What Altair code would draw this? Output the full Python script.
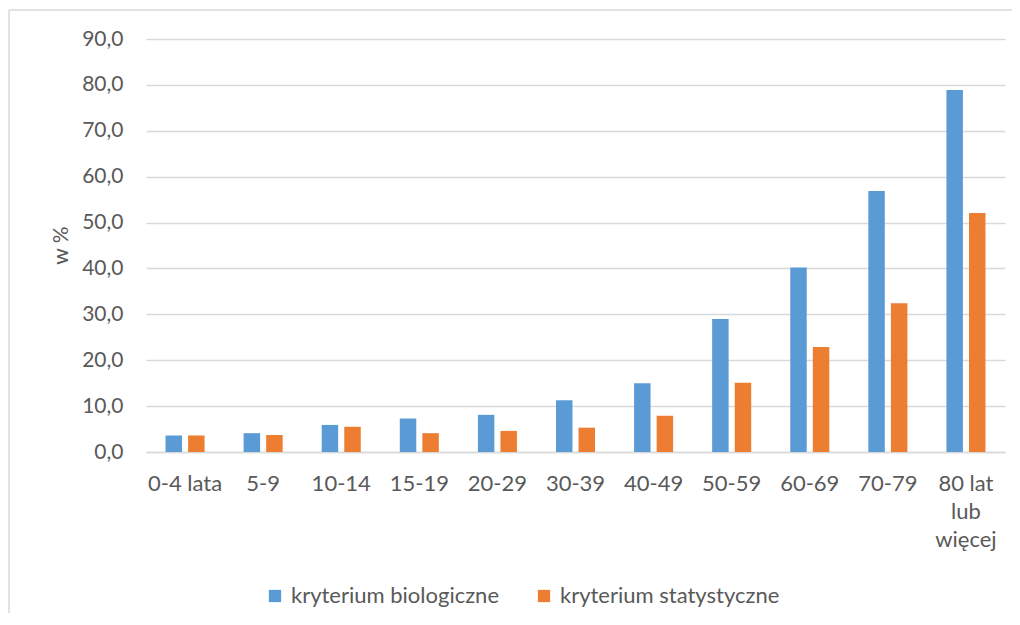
import altair as alt
import pandas as pd

categories = ["0-4 lata", "5-9", "10-14", "15-19", "20-29", "30-39", "40-49",
              "50-59", "60-69", "70-79", "80 lat|lub|więcej"]
series_names = ["kryterium biologiczne", "kryterium statystyczne"]
biologiczne = [3.6, 4.1, 5.9, 7.3, 8.1, 11.3, 15.0, 29.0, 40.2, 56.9, 78.9]
statystyczne = [3.6, 3.7, 5.5, 4.1, 4.6, 5.3, 7.9, 15.1, 22.9, 32.4, 52.1]
y_ticks = [0, 10, 20, 30, 40, 50, 60, 70, 80, 90]
colors = ["#5B9BD5", "#ED7D31"]

rows = []
for c, b, s in zip(categories, biologiczne, statystyczne):
    rows.append({"kat": c, "seria": series_names[0], "val": b})
    rows.append({"kat": c, "seria": series_names[1], "val": s})
df = pd.DataFrame(rows)

FONT = "Lato"
FS = 21
TXT = "#595959"
GRID = "#D9D9D9"

bars = alt.Chart(df).mark_bar().encode(
    x=alt.X("kat:N", sort=categories, title=None,
            scale=alt.Scale(paddingInner=0.5, paddingOuter=0.25),
            axis=alt.Axis(labelAngle=0, labelExpr="split(datum.label, '|')",
                          labelLineHeight=28, labelPadding=21, labelBaseline="top",
                          ticks=False, domain=True, domainColor=GRID, domainWidth=1.5,
                          labelFontSize=22, labelColor=TXT, labelFont=FONT, grid=False)),
    xOffset=alt.XOffset("seria:N", sort=series_names,
                        scale=alt.Scale(paddingInner=0.27, paddingOuter=0)),
    y=alt.Y("val:Q", title="w %",
            scale=alt.Scale(domain=[0, 90], nice=False),
            axis=alt.Axis(values=y_ticks, labelExpr="replace(format(datum.value, '.1f'), '.', ',')",
                          ticks=False, domain=False, grid=True, gridColor=GRID, gridWidth=1.5,
                          labelPadding=23, labelFontSize=FS, labelColor=TXT, labelFont=FONT,
                          titleFontSize=FS, titleColor=TXT, titleFont=FONT, titleFontWeight="normal",
                          titleAngle=-90, titleX=-79, titleY=206, titleBaseline="alphabetic",
                          titleAlign="center")),
    color=alt.Color("seria:N", sort=series_names,
                    scale=alt.Scale(domain=series_names, range=colors),
                    legend=alt.Legend(title=None, orient="none", direction="horizontal",
                                      legendX=118, legendY=546, symbolType="square",
                                      symbolSize=150, symbolStrokeWidth=0, labelFontSize=22,
                                      labelColor=TXT, labelFont=FONT, labelOffset=5,
                                      labelLimit=0, columnPadding=34)),
)

frame = alt.Data(values=[{"a": 1}])
top_line = alt.Chart(frame).mark_rule(color=GRID, strokeWidth=1.5).encode(
    x=alt.value(-137), x2=alt.value(1000), y=alt.value(-29)
)
left_line = alt.Chart(frame).mark_rule(color=GRID, strokeWidth=1.5).encode(
    x=alt.value(-137), y=alt.value(-29), y2=alt.value(700)
)

chart = alt.layer(top_line, left_line, bars).properties(
    width=859, height=413,
    background="white",
    autosize=alt.AutoSizeParams(type="none"),
    padding={"left": 138, "top": 31, "right": 7, "bottom": 161},
).configure_view(strokeWidth=0, stroke="transparent")

chart.save("out.html", embed_options={"renderer": "svg", "actions": False})
